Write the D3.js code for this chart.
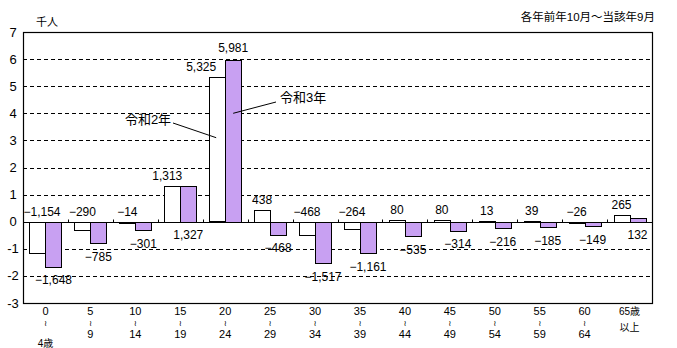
<!DOCTYPE html>
<html><head><meta charset="utf-8">
<script src="https://cdn.jsdelivr.net/npm/d3@7/dist/d3.min.js"></script>
<style>body{margin:0;background:#fff}svg{display:block}</style>
</head><body>
<svg id="c" width="677" height="348"></svg>
<script>
const categories = ["0-4","5-9","10-14","15-19","20-24","25-29","30-34","35-39","40-44","45-49","50-54","55-59","60-64","65+"];
const catTop = ["0","5","10","15","20","25","30","35","40","45","50","55","60","65歳"];
const catBottom = ["4歳","9","14","19","24","29","34","39","44","49","54","59","64","以上"];
const seriesNames = ["令和2年","令和3年"];
const valuesR2 = [-1154,-290,-14,1313,5325,438,-468,-264,80,80,13,39,-26,265];
const valuesR3 = [-1648,-785,-301,1327,5981,-468,-1517,-1161,-535,-314,-216,-185,-149,132];
const yTicks = [7,6,5,4,3,2,1,0,-1,-2,-3];
const unitLabel = "千人";
const periodNote = "各年前年10月～当該年9月";

const svg = d3.select("#c");
const font = "'Liberation Sans','Noto Sans CJK JP',sans-serif";
const L = 23, R = 652, T = 32, B = 303;

const x = d3.scaleBand().domain(categories).range([L, R]).paddingInner(0.288).paddingOuter(0.144);
const xs = d3.scaleBand().domain([0,1]).range([0, x.bandwidth()]);
const y = d3.scaleLinear().domain([-3, 7]).range([B, T]);

// grid
svg.append("g").selectAll("line").data(yTicks.filter(d => d !== 0 && d !== 7 && d !== -3)).join("line")
  .attr("x1", L).attr("x2", R).attr("y1", d => Math.round(y(d)) + 0.5).attr("y2", d => Math.round(y(d)) + 0.5)
  .attr("stroke", "#000").attr("stroke-dasharray", "4,3");

// y tick labels
svg.append("g").selectAll("text").data(yTicks).join("text")
  .attr("x", 13).attr("y", d => y(d)).attr("dy", "0.35em").attr("text-anchor", "middle")
  .attr("font-family", font).attr("font-size", 13).text(d => d);

// bars
const series = [valuesR2, valuesR3];
const fills = ["#ffffff", "#c8a0f2"];
series.forEach((vals, s) => {
  svg.append("g").selectAll("rect").data(vals).join("rect")
    .attr("x", (d, i) => Math.round(x(categories[i]) + xs(s)) + 0.5)
    .attr("width", Math.round(xs.bandwidth()))
    .attr("y", d => Math.round(y(Math.max(0, d / 1000))) + 0.5)
    .attr("height", d => Math.max(1, Math.round(Math.abs(y(d / 1000) - y(0)))))
    .attr("fill", fills[s]).attr("stroke", "#000").attr("stroke-width", 1);
});

// zero line and ticks
const z = Math.round(y(0)) + 0.5;
svg.append("line").attr("x1", L).attr("x2", R).attr("y1", z).attr("y2", z).attr("stroke", "#000");
svg.append("g").selectAll("line").data(categories.slice(1)).join("line")
  .attr("x1", d => Math.round(x(d) - x.step() * x.paddingInner() / 2) + 0.5)
  .attr("x2", d => Math.round(x(d) - x.step() * x.paddingInner() / 2) + 0.5)
  .attr("y1", z).attr("y2", z - 3).attr("stroke", "#000");

// frame
svg.append("rect").attr("x", L + 0.5).attr("y", T + 0.5).attr("width", R - L).attr("height", B - T)
  .attr("fill", "none").attr("stroke", "#000").attr("stroke-width", 1.2);

const fmt = d3.format(",");
const fmtV = v => (v < 0 ? "−" : "") + fmt(Math.abs(v));
// series 1 labels
svg.append("g").selectAll("text").data(valuesR2).join("text")
  .attr("x", (d, i) => {
    let cx = x(categories[i]) + xs(0) + xs.bandwidth() / 2;
    if (d > 3000 && valuesR3[i] > d) cx -= xs.bandwidth();
    else if (d > 1000) cx -= 5;
    return Math.max(42, cx);
  })
  .attr("y", d => Math.min(y(Math.max(0, d / 1000)), y(0)) - 6)
  .attr("text-anchor", "middle").attr("font-family", font).attr("font-size", 12)
  .text(d => fmtV(d));
// series 2 labels
svg.append("g").selectAll("text").data(valuesR3).join("text")
  .attr("x", (d, i) => x(categories[i]) + xs(1) + xs.bandwidth() / 2)
  .attr("y", d => d > 3000 ? y(d / 1000) - 8 : (d > 0 ? y(0) + 17 : y(d / 1000) + 18))
  .attr("text-anchor", "middle").attr("font-family", font).attr("font-size", 12)
  .text(d => fmtV(d));

// x labels
const xl = svg.append("g").attr("font-family", font).attr("font-size", 11).attr("text-anchor", "middle");
categories.forEach((c, i) => {
  const cx = x(c) + x.bandwidth() / 2;
  const last = i === categories.length - 1;
  if (!last) {
    xl.append("text").attr("x", cx).attr("y", 315).text(catTop[i]);
    xl.append("text").attr("x", cx).attr("y", 326).attr("font-size", 8)
      .attr("font-family", "'DejaVu Sans',sans-serif").text("≀");
    xl.append("text").attr("x", cx).attr("y", i === 0 ? 347 : 338).attr("font-size", i === 0 ? 10 : 11).text(catBottom[i]);
  } else {
    xl.append("text").attr("x", cx).attr("y", 315).attr("font-size", 10).text(catTop[i]);
    xl.append("text").attr("x", cx).attr("y", 331).attr("font-size", 10).text(catBottom[i]);
  }
});

// unit and note
svg.append("text").attr("x", 47).attr("y", 26).attr("text-anchor", "middle")
  .attr("font-family", font).attr("font-size", 11).text(unitLabel);
svg.append("text").attr("x", 655).attr("y", 21).attr("text-anchor", "end")
  .attr("font-family", font).attr("font-size", 11.5).text(periodNote);

// annotations
const b20 = categories[4];
const wx = x(b20) + xs(0) + xs.bandwidth() / 2, px = x(b20) + xs(1) + xs.bandwidth() / 2;
svg.append("line").attr("x1", 173).attr("y1", 123).attr("x2", wx - 1).attr("y2", y(3.1)).attr("stroke", "#000");
svg.append("text").attr("x", 148).attr("y", 124).attr("text-anchor", "middle")
  .attr("font-family", font).attr("font-size", 13).text(seriesNames[0]);
svg.append("line").attr("x1", px).attr("y1", y(4)).attr("x2", 276).attr("y2", 102).attr("stroke", "#000");
svg.append("text").attr("x", 280).attr("y", 102).attr("text-anchor", "start")
  .attr("font-family", font).attr("font-size", 13).text(seriesNames[1]);
</script>
</body></html>
